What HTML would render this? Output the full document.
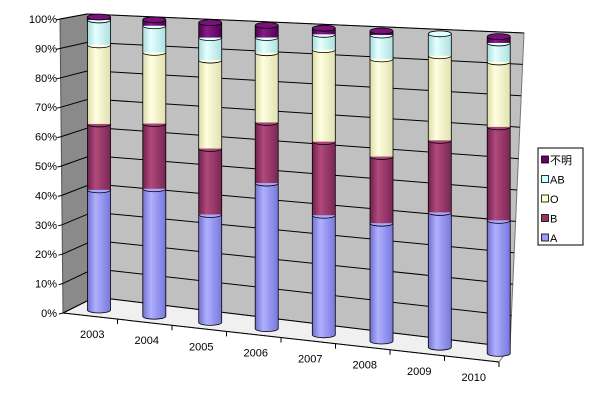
<!DOCTYPE html>
<html><head><meta charset="utf-8"><style>
html,body{margin:0;padding:0;background:#fff;}
svg{display:block;font-family:"Liberation Sans","Noto Sans CJK JP",sans-serif;}
</style></head><body>
<svg id="chart" width="600" height="400" viewBox="0 0 600 400">
<defs>
<linearGradient id="gA" x1="0" x2="1"><stop offset="0" stop-color="#7070d0"/><stop offset="0.35" stop-color="#b0b0ff"/><stop offset="1" stop-color="#7777dd"/></linearGradient>
<linearGradient id="gB" x1="0" x2="1"><stop offset="0" stop-color="#702050"/><stop offset="0.35" stop-color="#b04a7a"/><stop offset="1" stop-color="#7a2656"/></linearGradient>
<linearGradient id="gO" x1="0" x2="1"><stop offset="0" stop-color="#dcdca8"/><stop offset="0.35" stop-color="#ffffe0"/><stop offset="1" stop-color="#e0e0b0"/></linearGradient>
<linearGradient id="gAB" x1="0" x2="1"><stop offset="0" stop-color="#a8dcdc"/><stop offset="0.35" stop-color="#e6ffff"/><stop offset="1" stop-color="#aee0e0"/></linearGradient>
<linearGradient id="gU" x1="0" x2="1"><stop offset="0" stop-color="#4a004a"/><stop offset="0.35" stop-color="#8a1a8a"/><stop offset="1" stop-color="#520052"/></linearGradient>
</defs>
<g id="walls"></g>
<g id="bars"></g>
<g id="labels"></g>
<g id="legend"></g>
</svg>
<script>
const categories = ["2003","2004","2005","2006","2007","2008","2009","2010"];
const seriesNames = ["A","B","O","AB","不明"];
const valuesA  = [41, 43, 36, 48, 39, 38, 43, 42];
const valuesB  = [22.5, 22, 22, 20, 24, 21.5, 23, 29.5];
const valuesO  = [27, 24, 29.5, 23, 30, 31.5, 27, 20.5];
const valuesAB = [8.5, 9, 7.5, 5, 5, 7.7, 7, 6];
const valuesU  = [1, 2, 5, 4, 2, 1.3, 0, 2];
const yTicks = ["0%","10%","20%","30%","40%","50%","60%","70%","80%","90%","100%"];

const NS="http://www.w3.org/2000/svg";
function mk(tag, attrs, parent){const e=document.createElementNS(NS,tag);for(const k in attrs)e.setAttribute(k,attrs[k]);parent.appendChild(e);return e;}
const walls=document.getElementById('walls'), barsG=document.getElementById('bars'), labels=document.getElementById('labels'), legend=document.getElementById('legend');

// geometry
const SW={ft:[60,19],fb:[63,313]};      // side wall front edge
const BL={t:[87,14],b:[95,297]};        // back wall left edge
const BR={t:[524,33],b:[510,347]};      // back wall right edge
const FR=[499,362];
function lerp(a,b,t){return [a[0]+(b[0]-a[0])*t,a[1]+(b[1]-a[1])*t];}
function vFrac(v){return v/100;}

let p;
p=mk('polygon',{points:`${SW.ft} ${BL.t} ${BL.b} ${SW.fb}`,fill:'#8a8a8a',stroke:'#555','stroke-width':1},walls);

p=mk('polygon',{points:`${BL.t} ${BR.t} ${BR.b} ${BL.b}`,fill:'#c0c0c0',stroke:'#777','stroke-width':1},walls);

p=mk('polygon',{points:`${SW.fb} ${BL.b} ${BR.b} ${FR}`,fill:'#f0f0f0',stroke:'#777','stroke-width':1},walls);


yTicks.forEach((t,k)=>{
  const f=vFrac(k*10);
  const a=lerp(SW.fb,SW.ft,f), b=lerp(BL.b,BL.t,f), c=lerp(BR.b,BR.t,f);
  const g=mk('polyline',{points:`${a} ${b} ${c}`,fill:'none',stroke:'#000','stroke-width':1},walls);
  
  const tk=mk('line',{x1:a[0]-4,y1:a[1]+1,x2:a[0],y2:a[1],stroke:'#000'},walls);
  
  const tx=mk('text',{x:57,y:a[1]+4,'text-anchor':'end','font-size':11,fill:'#000'},labels);
  tx.textContent=t;
  
});
// x axis front line
let ax=mk('line',{x1:SW.fb[0],y1:SW.fb[1],x2:FR[0],y2:FR[1],stroke:'#000'},walls);


const n=categories.length;
function cx(i){return 99+i*55+i*i*0.3;}
function topY(i){return 17+i*2.8;}
function botY(i){return 310+i*6.2;}
function yAt(i,v){return botY(i)-(botY(i)-topY(i))*v/100;}
const W=23, RY=3;
const series=[valuesA,valuesB,valuesO,valuesAB,valuesU];
const fills=['url(#gA)','url(#gB)','url(#gO)','url(#gAB)','url(#gU)'];
const capFill=['#a8a8ff','#a84478','#ffffe6','#e0ffff','#7a107a'];

for(let i=0;i<n;i++){
  // x tick and label
  const f=(i+1)/n;
  const tp=lerp(SW.fb,FR,f);
  const tk=mk('line',{x1:tp[0],y1:tp[1],x2:tp[0],y2:tp[1]+5,stroke:'#000'},walls);
  
  const lp=lerp(SW.fb,FR,(i+0.5)/n);
  const tx=mk('text',{x:lp[0]+2,y:lp[1]+22,'text-anchor':'middle','font-size':11,fill:'#000'},labels);
  tx.textContent=categories[i];
  

  const g=mk('g',{},barsG);
  
  const x0=cx(i)-W/2;
  let cum=0;
  // bottom ellipse
  const be=mk('ellipse',{cx:cx(i),cy:botY(i),rx:W/2,ry:RY,fill:'url(#gA)',stroke:'#000','stroke-width':0.8},g);
  
  for(let s=0;s<series.length;s++){
    const v=series[s][i];
    if(v<=0){continue;}
    const y1=yAt(i,cum), y2=yAt(i,cum+v);
    cum+=v;
    const r=mk('rect',{x:x0,y:y2,width:W,height:Math.max(0,y1-y2),fill:fills[s]},g);
    
    
    const l1=mk('line',{x1:x0,y1:y2,x2:x0,y2:y1,stroke:'#000','stroke-width':0.8},g);
    
    const l2=mk('line',{x1:x0+W,y1:y2,x2:x0+W,y2:y1,stroke:'#000','stroke-width':0.8},g);
    
    const e=mk('ellipse',{cx:cx(i),cy:y2,rx:W/2,ry:RY,fill:capFill[s],stroke:'#000','stroke-width':0.8},g);
    
  }
}

// legend
const lb=mk('rect',{x:538,y:148,width:45,height:97,fill:'#fff',stroke:'#000','stroke-width':1},legend);

const legFill=['#9999ff','#993366','#ffffcc','#ccffff','#660066'];
for(let k=0;k<5;k++){
  const s=4-k;
  const y=160+k*19.5;
  const g=mk('g',{},legend);
  
  mk('rect',{x:541.5,y:y-4,width:7,height:7,fill:legFill[s],stroke:'#000','stroke-width':0.8},g);
  const t=mk('text',{x:550,y:y+4,'font-size':11,fill:'#000'},g);
  t.textContent=seriesNames[s];
}
</script>
</body></html>
